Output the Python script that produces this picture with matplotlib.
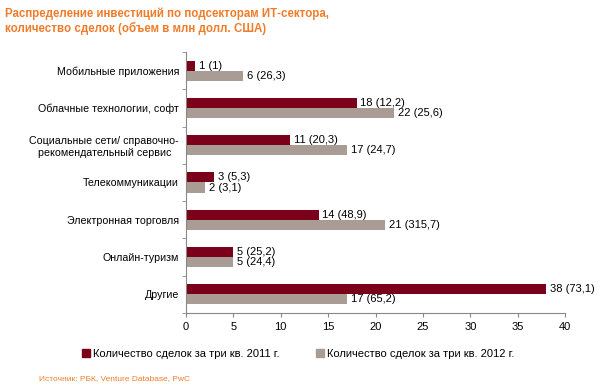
import matplotlib
matplotlib.use("Agg")
import matplotlib.pyplot as plt
from matplotlib.patches import Patch

categories = ["Мобильные приложения", "Облачные технологии, софт",
              "Социальные сети/ справочно-\nрекомендательный сервис",
              "Телекоммуникации", "Электронная торговля", "Онлайн-туризм", "Другие"]
deals_2011 = [1, 18, 11, 3, 14, 5, 38]
volume_2011 = ["1", "12,2", "20,3", "5,3", "48,9", "25,2", "73,1"]
deals_2012 = [6, 22, 17, 2, 21, 5, 17]
volume_2012 = ["26,3", "25,6", "24,7", "3,1", "315,7", "24,4", "65,2"]
xticks = [0, 5, 10, 15, 20, 25, 30, 35, 40]

c2011 = "#7B0019"
c2012 = "#A89C94"
orange = "#F07C2A"

plt.rcParams['font.family'] = ['Liberation Sans', 'DejaVu Sans']
fig = plt.figure(figsize=(6, 3.92), dpi=100)
ax = fig.add_axes([0.31, 0.2015, 0.6317, 0.666])

n = len(categories)
h = 0.27
for i in range(n):
    y = i
    ax.barh(y - h / 2, deals_2011[i], height=h, color=c2011)
    ax.barh(y + h / 2, deals_2012[i], height=h, color=c2012)
    ax.text(deals_2011[i] + 0.4, y - h / 2, f"{deals_2011[i]} ({volume_2011[i]})",
            va="center", ha="left", fontsize=8)
    ax.text(deals_2012[i] + 0.4, y + h / 2, f"{deals_2012[i]} ({volume_2012[i]})",
            va="center", ha="left", fontsize=8)

ax.set_ylim(n - 0.5, -0.5)
ax.set_xlim(0, 40)
ax.set_xticks(xticks)
ax.tick_params(axis="x", labelsize=8, length=3, color="#888888")
ax.set_yticks(range(n))
ax.set_yticklabels(categories, fontsize=7.7, multialignment="center")
ax.tick_params(axis="y", length=0, pad=5)
ax.set_yticks([i + 0.5 for i in range(-1, n)], minor=True)
ax.tick_params(axis="y", which="minor", length=3, color="#888888")
for s in ["top", "right"]:
    ax.spines[s].set_visible(False)
for s in ["left", "bottom"]:
    ax.spines[s].set_color("#888888")
    ax.spines[s].set_linewidth(0.8)

fig.text(0.008, 0.98, "Распределение инвестиций по подсекторам ИТ-сектора,\nколичество сделок (объем в млн долл. США)",
         color=orange, fontsize=8.3, fontweight="bold", va="top", ha="left", linespacing=1.2)

handles = [Patch(color=c2011), Patch(color=c2012)]
fig.legend(handles, ["Количество сделок за три кв. 2011 г.", "Количество сделок за три кв. 2012 г."],
           loc="center", bbox_to_anchor=(0.497, 0.098), ncol=2, frameon=False, fontsize=8,
           handlelength=0.7, handleheight=0.7, handletextpad=0.3, columnspacing=3.3)

fig.text(0.065, 0.035, "Источник: РБК, Venture Database, PwC", color=orange, fontsize=6,
         ha="left", va="center")

fig.savefig("out.png", dpi=100)
